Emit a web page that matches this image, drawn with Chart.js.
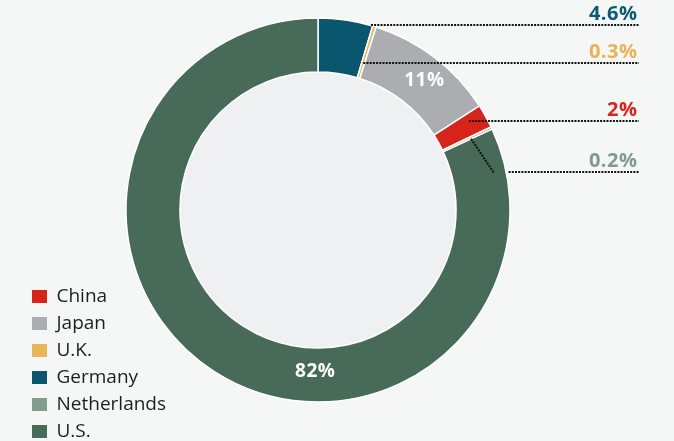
<!DOCTYPE html>
<html><head><meta charset="utf-8">
<script src="https://cdn.jsdelivr.net/npm/chart.js@4.4.1/dist/chart.umd.min.js"></script>
<style>html,body{margin:0;padding:0;background:#f5f6f6;}#wrap{width:674px;height:441px;position:relative}</style>
</head><body><div id="wrap"><canvas id="c"></canvas></div>
<script>
// ---- data ----
const categories = ['Germany', 'U.K.', 'Japan', 'China', 'Netherlands', 'U.S.'];
const shares = [4.6, 0.3, 11, 2, 0.2, 82];
const sliceColors = ['#0a566f', '#e8b55a', '#abadb0', '#d6241a', '#829c8e', '#476a59'];
const legendOrder = ['China', 'Japan', 'U.K.', 'Germany', 'Netherlands', 'U.S.'];
const calloutCategories = ['Germany', 'U.K.', 'China', 'Netherlands'];
const calloutColors = ['#0b5a73', '#e8b453', '#d8261b', '#7f9c8d'];
const insideCategories = ['Japan', 'U.S.'];

// ---- label placement (layout only: fractions along slice angle / ring depth) ----
const calloutAnchors = {
  'Germany': {af: 0.967, rf: 1.0},
  'U.K.': {af: 0.5, rf: 0.30},
  'China': {af: 0.31, rf: 0.69},
  'Netherlands': {af: 1.0, rf: 0.57, elbow: {dx: 22.5, dy: 33.5, gap: 15}}
};
const insideAnchors = {
  'Japan': {af: 0.55, rf: 0.55},
  'U.S.': {af: 0.393, rf: 0.43}
};

const FONT = "'Open Sans', sans-serif";

const ringPlugin = {
  id: 'ring',
  afterLayout(chart) {
    const lg = chart.legend;
    lg.left += 24; lg.right += 24;
    lg.top += 29; lg.bottom += 29;
  },
  beforeDatasetsDraw(chart) {
    const a = chart.getDatasetMeta(0).data[0];
    const ctx = chart.ctx;
    ctx.save();
    ctx.beginPath();
    ctx.arc(a.x, a.y, a.innerRadius, 0, Math.PI * 2);
    ctx.fillStyle = '#eff0f2';
    ctx.fill();
    ctx.restore();
  },
  afterDatasetsDraw(chart) {
    const ctx = chart.ctx;
    const meta = chart.getDatasetMeta(0);
    const pointAt = (arc, af, rf) => {
      const ang = arc.startAngle + (arc.endAngle - arc.startAngle) * af;
      const r = arc.innerRadius + (arc.outerRadius - arc.innerRadius) * rf;
      return {x: arc.x + r * Math.cos(ang), y: arc.y + r * Math.sin(ang)};
    };
    const rightX = chart.width - 37;
    ctx.save();
    calloutCategories.forEach((cat, k) => {
      const i = categories.indexOf(cat);
      const arc = meta.data[i];
      const an = calloutAnchors[cat];
      const p = pointAt(arc, an.af, an.rf);
      ctx.strokeStyle = '#111111';
      ctx.lineWidth = 2;
      ctx.setLineDash([2, 1.2]);
      let lineY = Math.round(p.y), startX = p.x;
      ctx.beginPath();
      if (an.elbow) {
        ctx.moveTo(p.x, p.y);
        ctx.lineTo(p.x + an.elbow.dx, p.y + an.elbow.dy);
        ctx.stroke();
        lineY = Math.round(p.y + an.elbow.dy);
        startX = p.x + an.elbow.dx + an.elbow.gap;
        ctx.beginPath();
      }
      ctx.moveTo(startX, lineY);
      ctx.lineTo(rightX + 2, lineY);
      ctx.stroke();
      ctx.setLineDash([]);
      ctx.fillStyle = calloutColors[k];
      ctx.font = 'bold 20px ' + FONT;
      ctx.letterSpacing = '0.5px';
      ctx.textAlign = 'right';
      ctx.textBaseline = 'alphabetic';
      ctx.fillText(shares[i] + '%', rightX + 0.5, lineY - 5.5);
    });
    insideCategories.forEach(cat => {
      const i = categories.indexOf(cat);
      const an = insideAnchors[cat];
      const p = pointAt(meta.data[i], an.af, an.rf);
      ctx.fillStyle = '#ffffff';
      ctx.font = 'bold 19px ' + FONT;
      ctx.letterSpacing = '0.5px';
      ctx.textAlign = 'center';
      ctx.textBaseline = 'middle';
      ctx.fillText(shares[i] + '%', p.x, p.y);
    });
    ctx.restore();
  }
};

new Chart(document.getElementById('c'), {
  type: 'doughnut',
  data: {
    labels: categories,
    datasets: [{
      data: shares,
      backgroundColor: sliceColors,
      borderColor: '#ffffff',
      borderWidth: 1.5,
      hoverOffset: 0
    }]
  },
  options: {
    responsive: true,
    maintainAspectRatio: false,
    animation: false,
    radius: 192,
    cutout: '71.9%',
    layout: {padding: {left: 0, right: 38, top: 0, bottom: 21}},
    plugins: {
      tooltip: {enabled: false},
      legend: {
        position: 'chartArea',
        align: 'end',
        labels: {
          boxWidth: 15,
          boxHeight: 13,
          padding: 8,
          color: '#1e1e1e',
          font: {family: FONT, size: 19},
          sort: (a, b) => legendOrder.indexOf(a.text) - legendOrder.indexOf(b.text),
          generateLabels(chart) {
            return categories.map((c, i) => ({
              text: c, fillStyle: sliceColors[i], strokeStyle: sliceColors[i],
              lineWidth: 0, hidden: false, index: i, fontColor: '#1e1e1e'
            }));
          }
        }
      }
    }
  },
  plugins: [ringPlugin]
});
</script>
</body></html>
